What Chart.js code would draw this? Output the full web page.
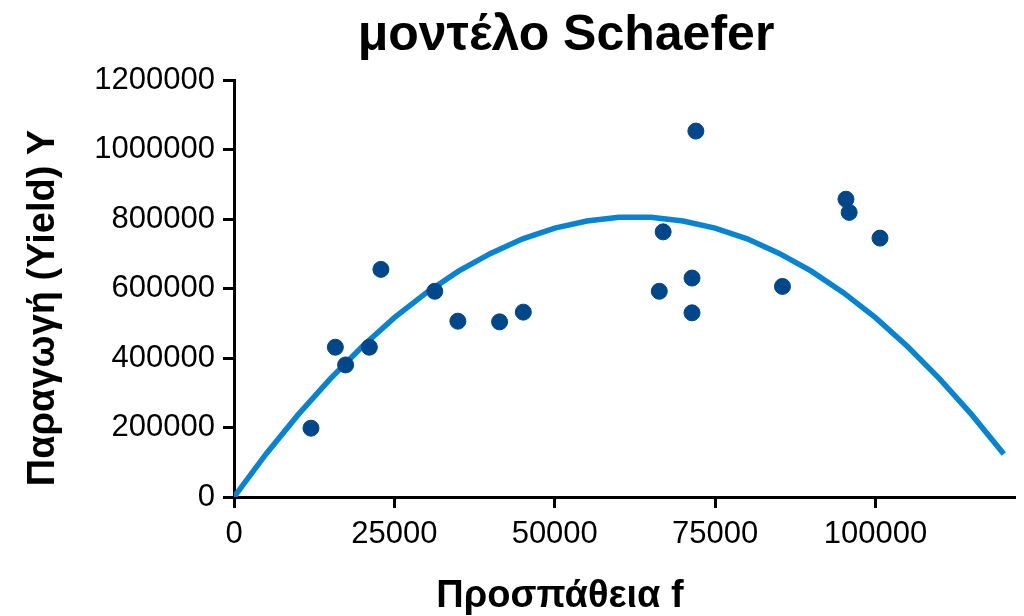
<!DOCTYPE html>
<html>
<head>
<meta charset="utf-8">
<title>μοντέλο Schaefer</title>
<script src="https://cdn.jsdelivr.net/npm/chart.js@4/dist/chart.umd.min.js"></script>
<style>
  html, body { margin: 0; padding: 0; background: #fff; }
  canvas { display: block; }
</style>
</head>
<body>
<canvas id="chart" width="1024" height="616"></canvas>
<script>
/* ===== Data ===== */
// observed effort / yield pairs
const effort = [12000, 15800, 17400, 21100, 22900, 31300, 34900, 41400, 45100,
  66300, 66900, 71400, 71400, 72000, 85500, 95400, 95900, 100700];
const yieldObs = [198000, 431000, 380000, 431000, 655000, 592000, 506000, 504000, 532000,
  592000, 763000, 630000, 530000, 1053000, 606000, 857000, 819000, 745000];

// fitted Schaefer curve, sampled every 5000 units of effort
const curveEffort = [0, 5000, 10000, 15000, 20000, 25000, 30000, 35000, 40000, 45000,
  50000, 55000, 60000, 65000, 70000, 75000, 80000, 85000, 90000, 95000,
  100000, 105000, 110000, 115000, 120000];
const curveYield = [0, 124000, 237000, 340000, 433000, 516000, 588000, 650000, 701000, 743000,
  774000, 794000, 805000, 805000, 794000, 774000, 743000, 701000, 650000, 588000,
  516000, 433000, 340000, 237000, 124000];

const xTicks = [0, 25000, 50000, 75000, 100000];
const yTicks = [0, 200000, 400000, 600000, 800000, 1000000, 1200000];

/* ===== Titles ===== */
const chartTitle = "μοντέλο Schaefer";
const xTitle = "Προσπάθεια f";
const yTitle = "Παραγωγή (Yield) Y";

const FONT = '"Liberation Sans", Arial, Helvetica, sans-serif';

// draws the three titles where the layout wants them
const titlesPlugin = {
  id: "titles",
  afterDraw(chart) {
    const ctx = chart.ctx;
    ctx.save();
    ctx.fillStyle = "#000";
    ctx.textAlign = "center";
    ctx.textBaseline = "alphabetic";

    ctx.font = "bold 50px " + FONT;
    ctx.fillText(chartTitle, 566, 50);

    ctx.font = "bold 38px " + FONT;
    ctx.fillText(xTitle, 560, 607);

    ctx.translate(54, 308);
    ctx.rotate(-Math.PI / 2);
    ctx.fillText(yTitle, 0, 0);
    ctx.restore();
  }
};

const toPoints = (xs, ys) => xs.map((x, i) => ({ x, y: ys[i] }));

/* ===== Chart ===== */
new Chart(document.getElementById("chart"), {
  type: "scatter",
  data: {
    datasets: [
      {
        label: "observed",
        data: toPoints(effort, yieldObs),
        backgroundColor: "#00468A",
        borderColor: "#00468A",
        pointRadius: 8,
        pointHoverRadius: 8,
        order: 0
      },
      {
        label: "Schaefer",
        data: toPoints(curveEffort, curveYield),
        showLine: true,
        borderColor: "#0684D2",
        borderWidth: 5.5,
        pointRadius: 0,
        fill: false,
        tension: 0,
        order: 1
      }
    ]
  },
  options: {
    responsive: false,
    animation: false,
    devicePixelRatio: 1,
    layout: { padding: { top: 80, left: 0, right: 0, bottom: 0 } },
    plugins: {
      legend: { display: false },
      tooltip: { enabled: false },
      title: { display: false }
    },
    scales: {
      x: {
        type: "linear",
        min: 0,
        max: 121750,
        afterFit: s => { s.height = 119; },
        afterBuildTicks: s => { s.ticks = xTicks.map(v => ({ value: v })); },
        border: { display: true, color: "#000", width: 3 },
        grid: {
          drawOnChartArea: false,
          drawTicks: true,
          tickLength: 11,
          tickWidth: 3,
          tickColor: "#000"
        },
        ticks: {
          color: "#000",
          padding: 8,
          font: { family: FONT, size: 31 },
          callback: v => String(v)
        }
      },
      y: {
        type: "linear",
        min: 0,
        max: 1200000,
        afterFit: s => { s.width = 234; },
        afterBuildTicks: s => { s.ticks = yTicks.map(v => ({ value: v })); },
        border: { display: true, color: "#000", width: 3 },
        grid: {
          drawOnChartArea: false,
          drawTicks: true,
          tickLength: 11,
          tickWidth: 3,
          tickColor: "#000"
        },
        ticks: {
          color: "#000",
          padding: 8,
          font: { family: FONT, size: 31 },
          callback: v => String(v)
        }
      }
    }
  },
  plugins: [titlesPlugin]
});
</script>
</body>
</html>
